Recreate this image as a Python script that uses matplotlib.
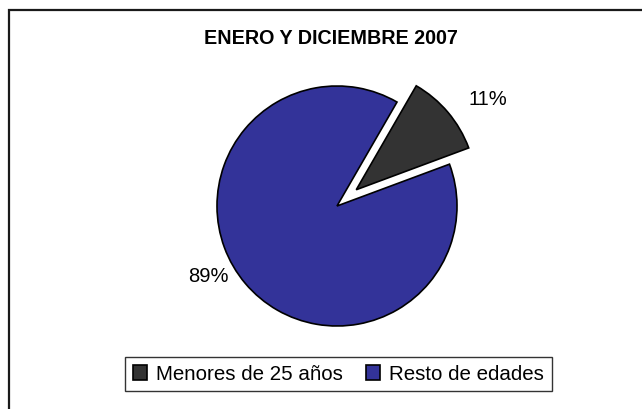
import matplotlib
matplotlib.use("Agg")
import matplotlib.pyplot as plt
from matplotlib.patches import Patch, Rectangle

plt.rcParams['font.family'] = ['Liberation Sans', 'DejaVu Sans']

title = 'ENERO Y DICIEMBRE 2007'
labels = ['Menores de 25 años', 'Resto de edades']
values = [11, 89]
colors = ['#333333', '#333399']
explode = [0.21, 0]

# where the percentage labels sit, in pie radius units
label_pos = [(1.26, 0.89), (-1.075, -0.59)]

W, H = 642, 409
fig = plt.figure(figsize=(W / 100, H / 100), dpi=100)
fig.patch.set_facecolor('white')

# outer chart frame (runs off the right and bottom edges)
fig.patches.append(Rectangle((8.5 / W, -0.1), 1.2, (H - 9.5) / H + 0.1,
                             transform=fig.transFigure, fill=False,
                             edgecolor='#1a1a1a', linewidth=1.6))

fig.text(331 / W, 1 - 44 / H, title, ha='center', va='baseline',
         fontsize=14.2, fontweight='bold')

cx, cy, r = 337, H - 206, 120
ax = fig.add_axes([(cx - r) / W, (cy - r) / H, 2 * r / W, 2 * r / H])
wedges, _, autotexts = ax.pie(
    values,
    colors=colors,
    explode=explode,
    startangle=60,
    counterclock=False,
    autopct='%1.0f%%',
    wedgeprops={'edgecolor': 'black', 'linewidth': 1.2},
    textprops={'fontsize': 14.5},
)
for t, (x, y) in zip(autotexts, label_pos):
    t.set_position((x, y))
    t.set_ha('center')
    t.set_va('center')
ax.set_xlim(-1, 1)
ax.set_ylim(-1, 1)
ax.set_aspect('auto')
ax.axis('off')

handles = [Patch(facecolor=c, edgecolor='black', linewidth=1.2) for c in colors]
leg = fig.legend(handles, labels, loc='center', bbox_to_anchor=(338.5 / W, 1 - 374 / H),
                 ncol=2, fontsize=14.8, frameon=True, fancybox=False,
                 edgecolor='black', handlelength=0.7, handleheight=0.7,
                 handletextpad=0.45, columnspacing=1.1, borderpad=0.35)
leg.get_frame().set_linewidth(1.0)

fig.savefig('out.png', dpi=100)
